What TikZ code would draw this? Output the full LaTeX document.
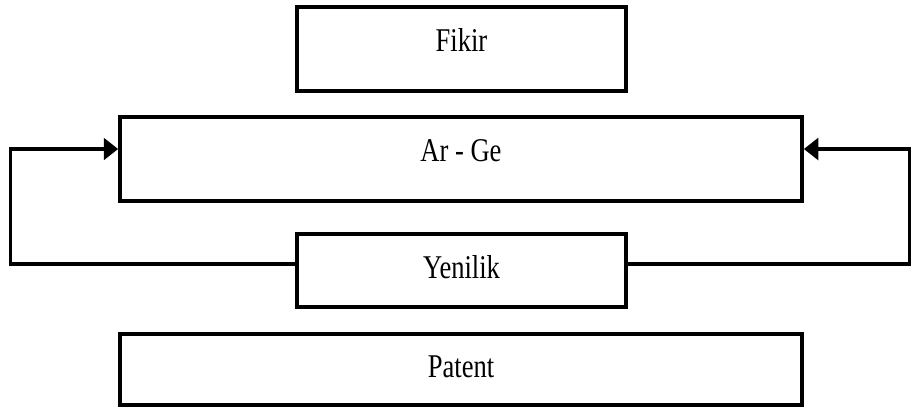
\documentclass[tikz,border=0pt]{standalone}
\usepackage{fontspec}
\setmainfont{Liberation Serif}[FakeStretch=0.8]
\usepackage{tikz}
\usetikzlibrary{calc, positioning, arrows.meta}
\tikzset{
    box/.style={rectangle, draw=black, line width=2.5pt, fill=white, inner sep=0pt},
    caption/.style={font=\fontsize{23.6}{28}\selectfont, anchor=base, inner sep=0pt},
    arrow/.style={-{Triangle[length=0.36cm, width=0.54cm]}, line width=2.5pt}
}

\begin{document}
\begin{tikzpicture}[x=0.025cm, y=-0.025cm]
    \useasboundingbox (0, 0) rectangle (912, 410);

    % Boxes
    \node[box, minimum width=8.225cm, minimum height=2.1cm] (fikir) at (461.5, 49) {};
    \node[box, minimum width=17.05cm, minimum height=2.1cm] (arge) at (461, 159) {};
    \node[box, minimum width=8.225cm, minimum height=1.825cm] (yenilik) at (461.5, 270.5) {};
    \node[box, minimum width=17.05cm, minimum height=1.775cm] (patent) at (461, 369.5) {};

    % Texts
    \node[caption] (fikirText) at ($(fikir.north)+(0, 46)$) {Fikir};
    \node[caption] (argeText) at ($(arge.north)+(0, 46)$) {Ar - Ge};
    \node[caption] (yenilikText) at ($(yenilik.north)+(0, 46)$) {Yenilik};
    \node[caption] (patentText) at ($(patent.north)+(0, 45)$) {Patent};

    % Feedback loops
    \coordinate (leftLow) at (10.5, 264);
    \coordinate (leftHigh) at (10.5, 149);
    \coordinate (rightLow) at (909.5, 264);
    \coordinate (rightHigh) at (909.5, 149);
    \draw[arrow] (yenilik.west |- leftLow) -- (leftLow) -- (leftHigh) -- (arge.west |- leftHigh);
    \draw[arrow] (yenilik.east |- rightLow) -- (rightLow) -- (rightHigh) -- (arge.east |- rightHigh);
\end{tikzpicture}
\end{document}
